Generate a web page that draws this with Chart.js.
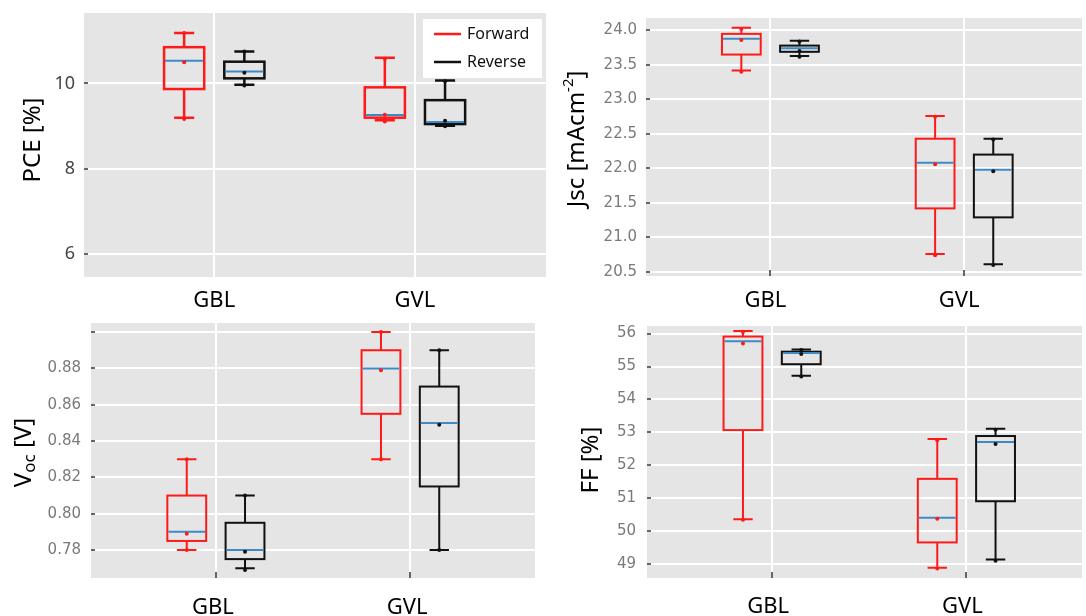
<!DOCTYPE html>
<html>
<head>
<meta charset="utf-8">
<script src="https://cdn.jsdelivr.net/npm/chart.js@4.4.1/dist/chart.umd.min.js"></script>
<style>
  html, body { margin: 0; padding: 0; background: #fff; }
  #wrap { position: relative; width: 1086px; height: 616px; overflow: hidden; }
  canvas { position: absolute; }
</style>
</head>
<body>
<div id="wrap">
  <canvas id="cPce" width="550" height="316" style="left:0;top:0"></canvas>
  <canvas id="cJsc" width="526" height="316" style="left:560px;top:0"></canvas>
  <canvas id="cVoc" width="539" height="306" style="left:0;top:310px"></canvas>
  <canvas id="cFf"  width="526" height="306" style="left:560px;top:310px"></canvas>
</div>
<script>
// ── Data ──────────────────────────────────────────────────────────────────
const groups = ['GBL', 'GVL'];
const seriesNames = ['Forward', 'Reverse'];

// box stats per group: [low whisker, Q1, median, Q3, high whisker]
const pceFwd = [[9.20, 9.87, 10.53, 10.85, 11.18], [9.14, 9.20, 9.26, 9.91, 10.60]];
const pceRev = [[9.97, 10.12, 10.28, 10.51, 10.75], [9.01, 9.05, 9.10, 9.61, 10.07]];
const pceFwdPts = [[9.17, 10.50, 11.18], [9.11, 9.27, 10.58]];
const pceRevPts = [[9.95, 10.25, 10.75], [9.00, 9.13, 10.05]];
const pceTicks = [6, 8, 10];
const pceTickLabels = ['6', '8', '10'];

const jscFwd = [[23.42, 23.65, 23.88, 23.95, 24.04], [20.76, 21.42, 22.08, 22.43, 22.76]];
const jscRev = [[23.63, 23.69, 23.74, 23.78, 23.85], [20.61, 21.29, 21.98, 22.20, 22.43]];
const jscFwdPts = [[23.40, 23.86, 24.02], [20.74, 22.06, 22.75]];
const jscRevPts = [[23.62, 23.70, 23.84], [20.60, 21.96, 22.42]];
const jscTicks = [20.5, 21.0, 21.5, 22.0, 22.5, 23.0, 23.5, 24.0];
const jscTickLabels = ['20.5', '21.0', '21.5', '22.0', '22.5', '23.0', '23.5', '24.0'];

const vocFwd = [[0.780, 0.785, 0.790, 0.810, 0.830], [0.830, 0.855, 0.880, 0.890, 0.900]];
const vocRev = [[0.770, 0.775, 0.780, 0.795, 0.810], [0.780, 0.815, 0.850, 0.870, 0.890]];
const vocFwdPts = [[0.780, 0.789, 0.830], [0.830, 0.879, 0.900]];
const vocRevPts = [[0.769, 0.779, 0.810], [0.780, 0.849, 0.890]];
const vocTicks = [0.78, 0.80, 0.82, 0.84, 0.86, 0.88, 0.90];
const vocTickLabels = ['0.78', '0.80', '0.82', '0.84', '0.86', '0.88', ''];

const ffFwd = [[50.36, 53.07, 55.77, 55.91, 56.08], [48.89, 49.66, 50.41, 51.59, 52.80]];
const ffRev = [[54.72, 55.07, 55.41, 55.45, 55.52], [49.14, 50.91, 52.71, 52.89, 53.11]];
const ffFwdPts = [[50.35, 55.70, 56.05], [48.87, 50.38, 52.76]];
const ffRevPts = [[54.70, 55.38, 55.50], [49.10, 52.65, 53.08]];
const ffTicks = [49, 50, 51, 52, 53, 54, 55, 56];
const ffTickLabels = ['49', '50', '51', '52', '53', '54', '55', '56'];

// ── Style ─────────────────────────────────────────────────────────────────
const RED = '#ff1a1a', BLACK = '#111', MEDIAN = '#3d8ac4', PANEL_BG = '#e5e5e5';
const OFFSETS = [-0.15, 0.15];   // Forward / Reverse position around each group
const BOX_W = 0.2;

// ── Box plot plugin (draws via chart scales) ─────────────────────────────
const boxPlot = {
  id: 'boxPlot',
  beforeDraw(chart, args, o) {
    const { ctx, chartArea: a } = chart;
    ctx.save();
    ctx.fillStyle = PANEL_BG;
    ctx.fillRect(a.left, a.top, a.right - a.left, a.bottom - a.top);
    ctx.restore();
  },
  beforeDatasetsDraw(chart, args, o) {
    const { ctx, chartArea: a, scales: { x, y } } = chart;
    ctx.save();
    ctx.strokeStyle = '#666'; ctx.lineWidth = 2;
    y.ticks.forEach(t => {
      const py = Math.round(y.getPixelForValue(t.value));
      ctx.beginPath(); ctx.moveTo(a.left, py); ctx.lineTo(a.left + 4, py); ctx.stroke();
    });
    if (o.xMarks) x.ticks.forEach(t => {
      const px = Math.round(x.getPixelForValue(t.value));
      ctx.beginPath(); ctx.moveTo(px, a.bottom - 6); ctx.lineTo(px, a.bottom); ctx.stroke();
    });

    const hw = (x.getPixelForValue(BOX_W) - x.getPixelForValue(0)) / 2;
    o.series.forEach((s, si) => {
      s.stats.forEach((st, gi) => {
        const cx = x.getPixelForValue(gi + 1 + OFFSETS[si]);
        const [lo, q1, med, q3, hi] = st.map(v => y.getPixelForValue(v));
        ctx.lineWidth = o.lw;
        ctx.strokeStyle = s.color;
        ctx.beginPath();
        ctx.moveTo(cx, q1); ctx.lineTo(cx, lo);
        ctx.moveTo(cx - hw / 2, lo); ctx.lineTo(cx + hw / 2, lo);
        ctx.moveTo(cx, q3); ctx.lineTo(cx, hi);
        ctx.moveTo(cx - hw / 2, hi); ctx.lineTo(cx + hw / 2, hi);
        ctx.stroke();
        ctx.strokeRect(cx - hw, q3, hw * 2, q1 - q3);
        ctx.strokeStyle = MEDIAN; ctx.lineWidth = 2;
        ctx.beginPath(); ctx.moveTo(cx - hw + 1, med); ctx.lineTo(cx + hw - 1, med); ctx.stroke();
      });
    });
    ctx.restore();
  },
  afterDatasetsDraw(chart, args, o) {
    if (!o.legend) return;
    const { ctx, chartArea: a } = chart;
    const L = a.right - 123, T = a.top + 6;
    ctx.save();
    ctx.fillStyle = '#fff';
    ctx.fillRect(L, T, 119, 59);
    ctx.font = '16px "Noto Sans"';
    ctx.textBaseline = 'middle';
    o.series.forEach((s, i) => {
      const yy = T + 15 + i * 28;
      ctx.strokeStyle = s.color; ctx.lineWidth = 2.5;
      ctx.beginPath(); ctx.moveTo(L + 11, yy); ctx.lineTo(L + 38, yy); ctx.stroke();
      ctx.fillStyle = '#111';
      ctx.fillText(s.name, L + 44, yy);
    });
    ctx.restore();
  },
  afterDraw(chart, args, o) {
    const { ctx, chartArea: a } = chart;
    const parts = o.title;
    ctx.save();
    ctx.translate(o.titleX, (a.top + a.bottom) / 2 + o.titleDy);
    ctx.rotate(-Math.PI / 2);
    ctx.textBaseline = 'middle';
    ctx.fillStyle = '#000';
    const widths = parts.map(p => { ctx.font = p[1] + 'px "Noto Sans"'; return ctx.measureText(p[0]).width; });
    let xx = -widths.reduce((s, w) => s + w, 0) / 2;
    parts.forEach((p, i) => {
      ctx.font = p[1] + 'px "Noto Sans"';
      ctx.fillText(p[0], xx, p[2]);
      xx += widths[i];
    });
    ctx.restore();
  }
};

// ── Panel builder ─────────────────────────────────────────────────────────
function buildPanel(id, c) {
  const series = [
    { name: seriesNames[0], color: RED,   stats: c.fwd, pts: c.fwdPts },
    { name: seriesNames[1], color: BLACK, stats: c.rev, pts: c.revPts }
  ];
  const datasets = series.map((s, si) => ({
    data: s.pts.flatMap((vals, gi) => vals.map(v => ({ x: gi + 1 + OFFSETS[si], y: v }))),
    pointRadius: 2, pointBackgroundColor: s.color, pointBorderWidth: 0, showLine: false
  }));
  new Chart(document.getElementById(id), {
    type: 'scatter',
    data: { datasets },
    plugins: [boxPlot],
    options: {
      responsive: false, animation: false, events: [],
      layout: { padding: { top: c.padTop, right: 0, left: 0, bottom: 0 } },
      plugins: {
        legend: { display: false }, tooltip: { enabled: false },
        boxPlot: { series, lw: c.lw, legend: !!c.legend, xMarks: !!c.xMarks,
                   title: c.title, titleX: c.titleX, titleDy: c.titleDy }
      },
      scales: {
        x: {
          type: 'linear', min: c.xMin, max: c.xMax,
          afterBuildTicks: s => { s.ticks = groups.map((g, i) => ({ value: i + 1 })); },
          afterFit: s => { s.height = c.xH; s.paddingLeft = 0; s.paddingRight = 0; },
          grid: { color: '#fff', lineWidth: 2, drawTicks: false },
          border: { display: false },
          ticks: { callback: v => groups[v - 1], autoSkip: false, maxRotation: 0,
                   padding: c.xPad, labelOffset: c.xLabelOffset || 0, color: '#000',
                   font: { family: 'Noto Sans', size: 22 } }
        },
        y: {
          min: c.yMin, max: c.yMax,
          afterBuildTicks: s => { s.ticks = c.ticks.map(v => ({ value: v })); },
          afterFit: s => { s.width = c.yW; s.paddingTop = 0; s.paddingBottom = 0; },
          grid: { color: '#fff', lineWidth: 2, drawTicks: false },
          border: { display: false },
          ticks: { callback: (v, i) => c.tickLabels[i], autoSkip: false, padding: c.yPad,
                   color: c.tickColor, font: c.tickFont }
        }
      }
    }
  });
}

const grayTick = { family: 'DejaVu Sans', size: 15 };

buildPanel('cPce', {
  fwd: pceFwd, rev: pceRev, fwdPts: pceFwdPts, revPts: pceRevPts,
  ticks: pceTicks, tickLabels: pceTickLabels, tickColor: '#444',
  tickFont: { family: 'Noto Sans', size: 18 },
  xMin: 0.351, xMax: 2.653, yMin: 5.47, yMax: 11.65,
  padTop: 13, yW: 84, xH: 39, yPad: 9, xPad: 11, lw: 2.5, legend: true,
  title: [['PCE [%]', 24, 0]], titleX: 33, titleDy: -5
});

buildPanel('cJsc', {
  fwd: jscFwd, rev: jscRev, fwdPts: jscFwdPts, revPts: jscRevPts,
  ticks: jscTicks, tickLabels: jscTickLabels, tickColor: '#7a7a7a', tickFont: grayTick,
  xMin: 0.358, xMax: 2.608, yMin: 20.44, yMax: 24.18,
  padTop: 18, yW: 86, xH: 40, yPad: 9, xPad: 12, xLabelOffset: -5, lw: 2, xMarks: true,
  title: [['Jsc [mAcm', 24, 0], ['-2', 15, -8], [']', 24, 0]], titleX: 17, titleDy: -8
});

buildPanel('cVoc', {
  fwd: vocFwd, rev: vocRev, fwdPts: vocFwdPts, revPts: vocRevPts,
  ticks: vocTicks, tickLabels: vocTickLabels, tickColor: '#7a7a7a', tickFont: grayTick,
  xMin: 0.357, xMax: 2.643, yMin: 0.7646, yMax: 0.905,
  padTop: 13, yW: 91, xH: 38, yPad: 10, xPad: 17, xLabelOffset: -3, lw: 2, xMarks: true,
  title: [['V', 24, 0], ['oc', 17, 6], [' [V]', 24, 0]], titleX: 24, titleDy: 2
});

buildPanel('cFf', {
  fwd: ffFwd, rev: ffRev, fwdPts: ffFwdPts, revPts: ffRevPts,
  ticks: ffTicks, tickLabels: ffTickLabels, tickColor: '#7a7a7a', tickFont: grayTick,
  xMin: 0.356, xMax: 2.595, yMin: 48.58, yMax: 56.23,
  padTop: 16, yW: 87, xH: 38, yPad: 11, xPad: 16, xLabelOffset: -4, lw: 2, xMarks: true,
  title: [['FF [%]', 24, 0]], titleX: 31, titleDy: 8
});
</script>
</body>
</html>
